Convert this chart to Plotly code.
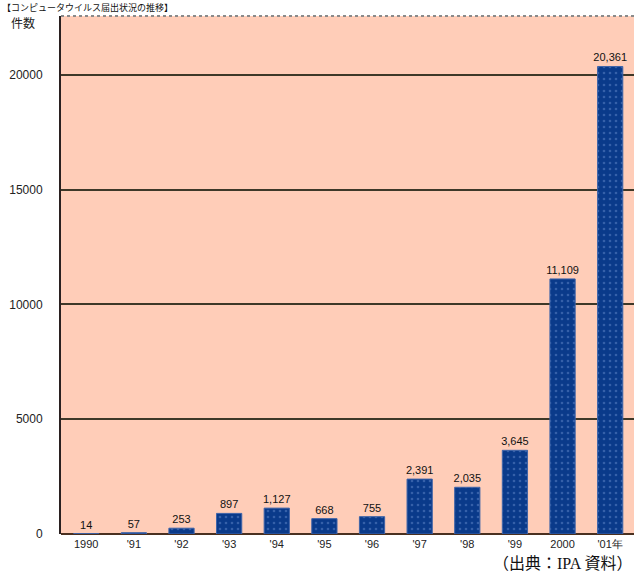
import plotly.graph_objects as go

years = ["1990", "'91", "'92", "'93", "'94", "'95", "'96", "'97", "'98", "'99", "2000", "'01年"]
counts = [14, 57, 253, 897, 1127, 668, 755, 2391, 2035, 3645, 11109, 20361]
y_ticks = [0, 5000, 10000, 15000, 20000]

fig = go.Figure()
fig.add_trace(go.Bar(
    x=years, y=counts,
    marker=dict(color="#0a3a8a", line=dict(color="#3f64a8", width=1),
                pattern=dict(shape=".", fgcolor="#5f86c8", bgcolor="#0a3a8a", size=6, solidity=0.15)),
    texttemplate="%{y:,}", textposition="outside", cliponaxis=False,
    textfont=dict(family="Liberation Sans, Arial", size=11, color="#111"),
))

fig.update_layout(
    width=634, height=575,
    margin=dict(l=61, r=0, t=16, b=41),
    paper_bgcolor="white", plot_bgcolor="#ffcdb8",
    bargap=0.47, showlegend=False,
    uniformtext=dict(minsize=11, mode="show"),
    font=dict(family="Liberation Sans, Arial", size=11, color="#222"),
    xaxis=dict(type="category", range=[-0.53, 11.5], showgrid=False,
               tickfont=dict(size=11, color="#222"), ticks="", ticklabelstandoff=2),
    yaxis=dict(range=[0, 22560], tickvals=y_ticks, ticktext=[str(v) for v in y_ticks],
               showgrid=True, gridcolor="#3e3828", gridwidth=2,
               zeroline=True, zerolinecolor="#4a3020", zerolinewidth=2,
               showline=True, linecolor="#2a2020", linewidth=2,
               tickfont=dict(size=12, color="#222"), ticks="", ticklabelstandoff=14),
    shapes=[dict(type="line", xref="paper", yref="paper", x0=0, x1=1, y0=1, y1=1,
                 line=dict(color="#8a8a8a", width=2, dash="dot"))],
    annotations=[
        dict(text="件数", xref="paper", yref="paper", x=-0.066, y=0.9865, xanchor="center", yanchor="middle",
             showarrow=False, font=dict(family="Noto Sans CJK JP", size=12, color="#222")),
        dict(text="（出典：IPA 資料）", xref="paper", yref="paper", x=1.0, y=-0.056, xanchor="right", yanchor="middle",
             showarrow=False, font=dict(family="Liberation Serif, Noto Sans CJK JP", size=16, color="#111")),
        dict(text="【コンピュータウイルス届出状況の推移】", xref="paper", yref="paper", x=-0.106, y=1.0164,
             xanchor="left", yanchor="middle", showarrow=False,
             font=dict(family="Noto Sans CJK JP", size=9, color="#111")),
    ],
)

fig.write_html("out.html")
